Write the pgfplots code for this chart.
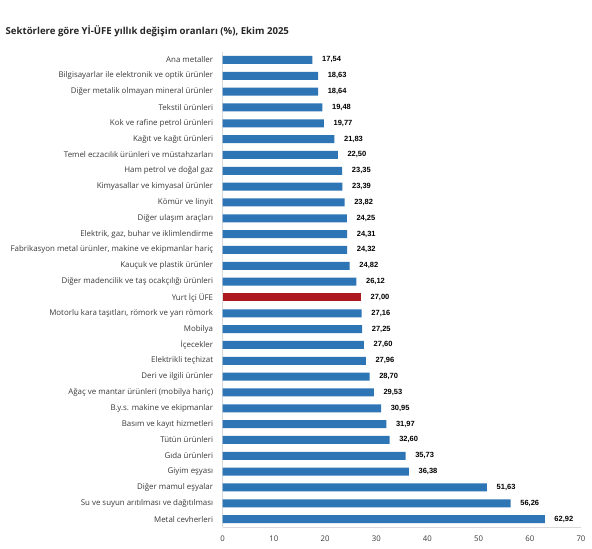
\documentclass[border=0pt]{standalone}
\usepackage{fontspec}
\setmainfont{Open Sans}
\newfontfamily\valfont{Liberation Sans}
\usepackage{pgfplots}
\pgfplotsset{compat=1.18}
\definecolor{barblue}{HTML}{2E75B6}
\definecolor{barred}{HTML}{AC1A1F}
\definecolor{labgray}{HTML}{3A3A3A}
\definecolor{axgray}{HTML}{D9D9D9}
\begin{document}
\begin{tikzpicture}
\useasboundingbox[fill=white] (0,0) rectangle (592bp,549bp);
\node[anchor=west, inner sep=0pt, font=\fontsize{9.6bp}{11bp}\selectfont\bfseries, text=black!85] at (5.5bp,518bp) {Sektörlere göre Yİ-ÜFE yıllık değişim oranları (\%), Ekim 2025};
\begin{axis}[
  at={(222.7bp,22bp)}, anchor=south west,
  scale only axis, width=358.3bp, height=475bp,
  xmin=0, xmax=70, ymin=-0.5, ymax=29.5,
  y dir=reverse,
  xbar, bar width=8bp, bar shift=0pt,
  xtick={0,10,...,70},
  ytick={0,...,29},
  yticklabels={{Ana metaller},{Bilgisayarlar ile elektronik ve optik ürünler},{Diğer metalik olmayan mineral ürünler},{Tekstil ürünleri},{Kok ve rafine petrol ürünleri},{Kağıt ve kağıt ürünleri},{Temel eczacılık ürünleri ve müstahzarları},{Ham petrol ve doğal gaz},{Kimyasallar ve kimyasal ürünler},{Kömür ve linyit},{Diğer ulaşım araçları},{Elektrik, gaz, buhar ve iklimlendirme},{Fabrikasyon metal ürünler, makine ve ekipmanlar hariç},{Kauçuk ve plastik ürünler},{Diğer madencilik ve taş ocakçılığı ürünleri},{Yurt İçi ÜFE},{Motorlu kara taşıtları, römork ve yarı römork},{Mobilya},{İçecekler},{Elektrikli teçhizat},{Deri ve ilgili ürünler},{Ağaç ve mantar ürünleri (mobilya hariç)},{B.y.s. makine ve ekipmanlar},{Basım ve kayıt hizmetleri},{Tütün ürünleri},{Gıda ürünleri},{Giyim eşyası},{Diğer mamul eşyalar},{Su ve suyun arıtılması ve dağıtılması},{Metal cevherleri}},
  major tick length=0pt,
  axis x line*=bottom, axis y line*=left,
  axis line style={draw=axgray, line width=0.8bp},
  x axis line style={-}, y axis line style={-},
  /pgf/number format/assume math mode=true,
  yticklabel style={font=\fontsize{7.9bp}{9bp}\selectfont, text=labgray, inner sep=0pt, xshift=-9.4bp},
  xticklabel style={font=\fontsize{7.8bp}{9bp}\selectfont, text=labgray, inner sep=0pt, yshift=-9bp},
  nodes near coords,
  nodes near coords style={font=\valfont\bfseries\fontsize{7.5bp}{9bp}\selectfont, text=black, anchor=west, inner sep=0pt, xshift=9.5bp,
    /pgf/number format/.cd, fixed, fixed zerofill, precision=2, use comma, assume math mode=true},
  clip=false,
]
\addplot[fill=barblue, draw=none] table[x=v, y=i] {
i v
0 17.54
1 18.63
2 18.64
3 19.48
4 19.77
5 21.83
6 22.50
7 23.35
8 23.39
9 23.82
10 24.25
11 24.31
12 24.32
13 24.82
14 26.12
16 27.16
17 27.25
18 27.60
19 27.96
20 28.70
21 29.53
22 30.95
23 31.97
24 32.60
25 35.73
26 36.38
27 51.63
28 56.26
29 62.92
};
\addplot[fill=barred, draw=none] table[x=v, y=i] {
i v
15 27.00
};
\end{axis}
\end{tikzpicture}
\end{document}
